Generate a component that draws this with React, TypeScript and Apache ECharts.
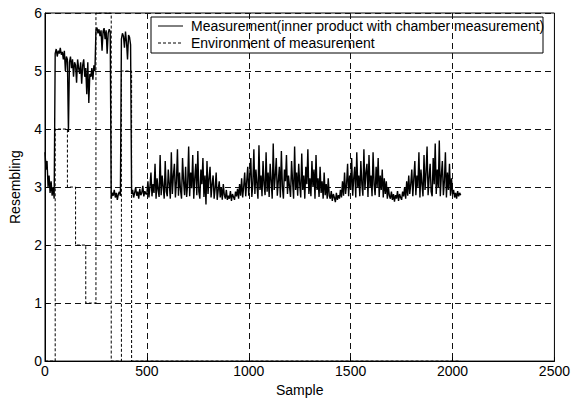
import React, { useEffect, useRef } from "react";
import * as echarts from "echarts";

// Measurement values, one every SAMPLE_STEP samples, starting at sample 0
const SAMPLE_STEP = 5;
const MEAS_START: number[] = [3.6, 3.3, 3.45, 3.0, 3.2, 2.9, 3.1, 2.85, 3.0, 2.8];
const MEAS_LEVEL4: number[] = [5.3, 5.38, 5.25, 5.35, 5.3, 5.4, 5.28, 5.33, 5.2, 5.35, 5.0, 5.25];
const MEAS_LEVEL3_2_1: number[] = [
  5.2, 3.95, 5.15, 5.25, 5.05, 5.2, 4.9, 5.15, 5.1, 4.8, 5.2, 5.05, 4.95, 5.15,
  4.78, 5.1, 5.2, 4.9, 5.05, 4.6, 5.15, 4.45, 4.95, 4.9, 5.05, 4.85, 5.1, 5.0,
];
const MEAS_LEVEL6: number[] = [5.7, 5.75, 5.65, 5.72, 5.6, 5.7, 5.35, 5.68, 5.74, 5.55, 5.7, 5.3, 5.65, 5.72, 5.68];
const MEAS_LEVEL0A: number[] = [2.8, 2.9, 2.85, 2.95, 2.82, 2.9, 2.78, 2.88, 2.92, 2.85];
const MEAS_LEVEL5: number[] = [5.55, 5.65, 5.6, 5.4, 5.68, 5.5, 5.2, 5.62, 5.58, 5.45];
const MEAS_LEVEL0B: number[] = [
  // 425-495
  2.88, 2.95, 2.82, 2.9, 3.0, 2.85, 2.92, 2.8, 2.97, 2.86, 2.9, 3.02, 2.84, 2.93, 2.88,
  // 500-595
  2.88, 3.1, 2.82, 3.0, 3.25, 2.84, 3.05, 2.9, 3.4, 2.8, 3.15, 2.95, 2.83, 3.55, 2.86, 3.2, 3.0, 2.8, 3.45, 2.92,
  // 600-695
  2.84, 3.3, 3.05, 2.8, 3.6, 2.88, 3.2, 3.4, 2.82, 3.1, 3.65, 2.85, 3.25, 2.95, 2.8, 3.5, 3.1, 2.86, 3.35, 2.83,
  // 700-795
  3.05, 3.7, 2.84, 3.25, 2.98, 3.55, 2.8, 3.15, 3.4, 2.86, 3.62, 2.92, 2.8, 3.3, 3.05, 3.5, 2.83, 3.2, 2.7, 3.45,
  // 800-895
  2.88, 3.15, 3.35, 2.82, 3.05, 3.2, 2.8, 2.98, 3.25, 2.78, 2.95, 3.1, 2.82, 3.0, 2.78, 3.05, 2.86, 2.8, 2.95, 2.78,
  // 900-995
  2.85, 2.8, 2.93, 2.76, 2.88, 2.83, 2.78, 2.92, 2.84, 2.97, 2.8, 3.05, 2.85, 3.15, 2.82, 3.0, 3.25, 2.84, 3.1, 3.35,
  // 1000-1095
  2.85, 3.2, 3.5, 2.83, 3.05, 3.65, 2.88, 3.3, 3.05, 2.8, 3.72, 2.95, 3.2, 2.84, 3.45, 3.05, 2.86, 3.6, 2.92, 3.25,
  // 1100-1195
  2.83, 3.4, 3.1, 2.8, 3.75, 2.95, 3.2, 3.5, 2.85, 3.1, 3.35, 2.82, 3.62, 3.0, 2.8, 3.3, 3.1, 3.55, 2.88, 3.2,
  // 1200-1295
  3.0, 2.83, 3.45, 3.1, 2.8, 3.7, 2.95, 3.25, 2.85, 3.4, 3.05, 2.82, 3.58, 2.95, 3.2, 2.8, 3.35, 3.05, 3.65, 2.88,
  // 1300-1395
  3.15, 2.84, 3.45, 3.0, 3.3, 2.8, 3.55, 2.95, 3.15, 2.83, 3.35, 2.9, 3.1, 2.8, 3.25, 2.86, 3.05, 2.8, 3.15, 2.85,
  // 1400-1495
  2.8, 2.93, 2.76, 2.88, 2.82, 2.74, 2.9, 2.78, 2.86, 2.8, 2.95, 2.82, 3.1, 2.85, 3.25, 2.88, 3.05, 3.4, 2.84, 3.2,
  // 1500-1595
  2.95, 3.5, 2.85, 3.15, 3.35, 2.82, 3.6, 3.0, 3.2, 2.84, 3.45, 3.05, 2.85, 3.65, 2.95, 3.25, 3.4, 2.83, 3.55, 3.0,
  // 1600-1695
  3.2, 2.84, 3.6, 3.05, 2.86, 3.35, 3.0, 3.5, 2.83, 3.2, 2.95, 3.3, 2.82, 3.15, 2.88, 3.1, 2.8, 3.0, 2.85, 2.8,
  // 1700-1795
  2.92, 2.78, 2.88, 2.75, 2.86, 2.8, 2.93, 2.76, 2.88, 2.82, 2.78, 2.92, 2.84, 3.0, 2.8, 3.1, 2.85, 3.2, 2.88, 3.05,
  // 1800-1895
  3.3, 2.84, 3.15, 3.45, 2.86, 3.2, 3.0, 3.6, 2.82, 3.3, 3.05, 2.84, 3.55, 2.95, 3.25, 3.7, 2.86, 3.15, 3.4, 2.92,
  // 1900-1995
  2.84, 3.5, 3.05, 3.75, 2.88, 3.3, 3.0, 3.8, 2.84, 3.2, 3.45, 2.86, 3.1, 3.6, 2.82, 3.25, 2.95, 3.4, 2.85, 3.15,
  // 2000-2040
  2.88, 2.95, 2.82, 2.9, 2.8, 2.93, 2.84, 2.9, 2.86,
];
const MEASUREMENT: number[] = [
  ...MEAS_START,
  ...MEAS_LEVEL4,
  ...MEAS_LEVEL3_2_1,
  ...MEAS_LEVEL6,
  ...MEAS_LEVEL0A,
  ...MEAS_LEVEL5,
  ...MEAS_LEVEL0B,
];

// Environment: level held from each start sample to the next
const ENV_SAMPLES: number[] = [0, 50, 110, 150, 200, 250, 325, 375, 425, 2040];
const ENV_LEVELS: number[] = [0, 4, 3, 2, 1, 6, 0, 5, 0, 0];

const X_MIN = 0;
const X_MAX = 2500;
const X_INTERVAL = 500;
const Y_MIN = 0;
const Y_MAX = 6;
const Y_INTERVAL = 1;

const X_NAME = "Sample";
const Y_NAME = "Resembling";
const LEGEND_LABELS: string[] = [
  "Measurement(inner product with chamber measurement)",
  "Environment of measurement",
];

const FONT = "'Liberation Sans', Arial, Helvetica, sans-serif";
const FS = 14;

export default function App() {
  const ref = useRef<HTMLDivElement>(null);

  useEffect(() => {
    if (!ref.current) return;
    const chart = echarts.init(ref.current, undefined, { renderer: "svg" });

    const measData = MEASUREMENT.map((v, i) => [i * SAMPLE_STEP, v]);
    const envData = ENV_SAMPLES.map((s, i) => [s, ENV_LEVELS[i]]);

    const gridLine = {
      show: true,
      lineStyle: { color: "#111", width: 1, type: [6, 4] as number[] },
    };

    const option: echarts.EChartsOption = {
      animation: false,
      backgroundColor: "#fff",
      textStyle: { fontFamily: FONT },
      grid: {
        left: 38,
        right: 15,
        top: 13,
        bottom: 35,
        show: true,
        borderColor: "#000",
        borderWidth: 1,
        backgroundColor: "transparent",
      },
      xAxis: {
        type: "value",
        min: X_MIN,
        max: X_MAX,
        interval: X_INTERVAL,
        name: X_NAME,
        nameLocation: "middle",
        nameGap: 18,
        nameTextStyle: { color: "#000", fontSize: FS, fontFamily: FONT },
        axisLine: { show: true, lineStyle: { color: "#000", width: 1 } },
        axisTick: { show: true, inside: true, length: 4, lineStyle: { color: "#000" } },
        axisLabel: {
          color: "#000",
          fontSize: FS,
          margin: 3,
          fontFamily: FONT,
          formatter: (v: number) => String(v),
        },
        splitLine: gridLine,
      },
      yAxis: {
        type: "value",
        min: Y_MIN,
        max: Y_MAX,
        interval: Y_INTERVAL,
        name: Y_NAME,
        nameLocation: "middle",
        nameGap: 23,
        nameTextStyle: { color: "#000", fontSize: FS, fontFamily: FONT },
        axisLine: { show: true, lineStyle: { color: "#000", width: 1 } },
        axisTick: { show: true, inside: true, length: 4, lineStyle: { color: "#000" } },
        axisLabel: {
          color: "#000",
          fontSize: FS,
          margin: 3,
          fontFamily: FONT,
          formatter: (v: number) => String(v),
        },
        splitLine: gridLine,
      },
      series: [
        {
          name: LEGEND_LABELS[1],
          type: "line",
          data: envData,
          step: "end",
          symbol: "none",
          lineStyle: { color: "#000", width: 1, type: [3, 2] },
          z: 3,
        },
        {
          name: LEGEND_LABELS[0],
          type: "line",
          data: measData,
          symbol: "none",
          lineStyle: { color: "#000", width: 1.4 },
          z: 4,
        },
      ],
      graphic: [
        {
          type: "group",
          z: 100,
          children: [
            {
              type: "rect",
              shape: { x: 151, y: 17, width: 392, height: 36 },
              style: { fill: "#fff", stroke: "#000", lineWidth: 1 },
            },
            {
              type: "line",
              shape: { x1: 158, y1: 26, x2: 183, y2: 26 },
              style: { stroke: "#000", lineWidth: 1 },
            },
            {
              type: "line",
              shape: { x1: 158, y1: 43, x2: 183, y2: 43 },
              style: { stroke: "#000", lineWidth: 1, lineDash: [3, 2] },
            },
            {
              type: "text",
              x: 191,
              y: 26,
              style: {
                text: LEGEND_LABELS[0],
                fill: "#000",
                font: `${FS}px ${FONT}`,
                verticalAlign: "middle",
                align: "left",
              },
            },
            {
              type: "text",
              x: 191,
              y: 43,
              style: {
                text: LEGEND_LABELS[1],
                fill: "#000",
                font: `${FS}px ${FONT}`,
                verticalAlign: "middle",
                align: "left",
              },
            },
          ],
        },
      ],
    };

    chart.setOption(option);
    return () => chart.dispose();
  }, []);

  return (
    <div
      ref={ref}
      style={{ position: "fixed", left: 0, top: 0, width: 573, height: 402, background: "#fff" }}
    />
  );
}
